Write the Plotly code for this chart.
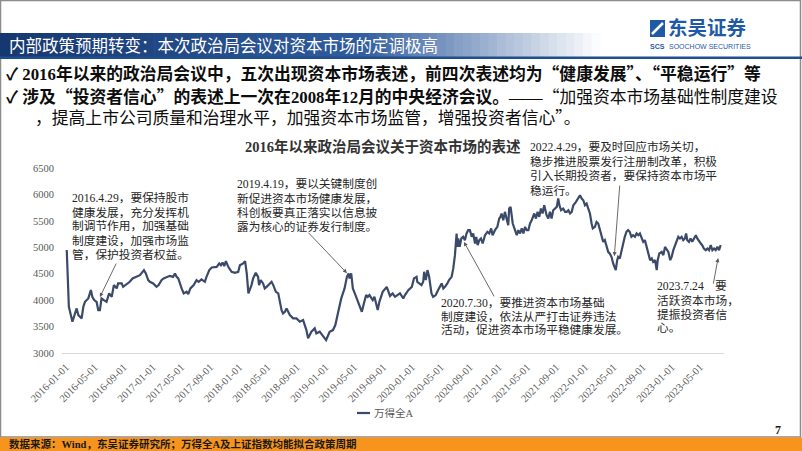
import plotly.graph_objects as go

W, H = 802, 451

# ---------------- data ----------------
series_name = "万得全A"
chart_title = "2016年以来政治局会议关于资本市场的表述"

dates = [
    # 2016
    "2016-01-04", "2016-01-06", "2016-01-08", "2016-01-11", "2016-01-13", "2016-01-18", "2016-01-28",
    "2016-02-08", "2016-02-15", "2016-02-22", "2016-02-29", "2016-03-07", "2016-03-14", "2016-03-21",
    "2016-04-04", "2016-04-15", "2016-04-21", "2016-04-29", "2016-05-09", "2016-05-16", "2016-05-23",
    "2016-05-30", "2016-06-09", "2016-06-20", "2016-07-01", "2016-07-12", "2016-07-21", "2016-08-02",
    "2016-08-08", "2016-08-23", "2016-08-29", "2016-09-09", "2016-09-19", "2016-09-26", "2016-10-08",
    "2016-10-22", "2016-11-08", "2016-11-25", "2016-12-03", "2016-12-13", "2016-12-20",
    # 2017
    "2017-01-03", "2017-01-17", "2017-01-26", "2017-02-07", "2017-02-16", "2017-03-01", "2017-03-14",
    "2017-03-28", "2017-04-05", "2017-04-12", "2017-04-19", "2017-05-03", "2017-05-12", "2017-05-24",
    "2017-05-31", "2017-06-09", "2017-06-23", "2017-07-05", "2017-07-14", "2017-07-26", "2017-08-09",
    "2017-08-16", "2017-08-28", "2017-09-07", "2017-09-28", "2017-10-09", "2017-10-16", "2017-10-23",
    "2017-10-30", "2017-11-06", "2017-11-16", "2017-11-30", "2017-12-14", "2017-12-28",
    # 2018
    "2018-01-04", "2018-01-18", "2018-01-26", "2018-02-02", "2018-02-09", "2018-02-22", "2018-03-01",
    "2018-03-12", "2018-03-22", "2018-03-26", "2018-04-02", "2018-04-12", "2018-04-19", "2018-04-27",
    "2018-05-11", "2018-05-18", "2018-05-25", "2018-06-05", "2018-06-15", "2018-06-22", "2018-06-29",
    "2018-07-05", "2018-07-13", "2018-07-20", "2018-08-03", "2018-08-17", "2018-08-31", "2018-09-14",
    "2018-09-28", "2018-10-12", "2018-10-19", "2018-11-02", "2018-11-16", "2018-11-23", "2018-12-07",
    # 2019
    "2019-01-03", "2019-01-18", "2019-02-01", "2019-02-11", "2019-02-22", "2019-03-08", "2019-03-22",
    "2019-04-01", "2019-04-08", "2019-04-12", "2019-04-19", "2019-04-26", "2019-05-10", "2019-05-24",
    "2019-06-03", "2019-06-10", "2019-06-21", "2019-06-28", "2019-07-05", "2019-07-19", "2019-07-26",
    "2019-08-09", "2019-08-16", "2019-08-30", "2019-09-16", "2019-09-30", "2019-10-11", "2019-10-21",
    "2019-10-31", "2019-11-11", "2019-11-25", "2019-12-02", "2019-12-16", "2019-12-31",
    # 2020
    "2020-01-09", "2020-01-20", "2020-01-23", "2020-02-10", "2020-02-17", "2020-02-21", "2020-02-28",
    "2020-03-06", "2020-03-13", "2020-03-23", "2020-03-30", "2020-04-10", "2020-04-20", "2020-04-27",
    "2020-05-05", "2020-05-12", "2020-05-19", "2020-05-29", "2020-06-05", "2020-06-16", "2020-06-23",
    "2020-06-30", "2020-07-07", "2020-07-10", "2020-07-14", "2020-07-20", "2020-07-27", "2020-08-04",
    "2020-08-11", "2020-08-18", "2020-08-25", "2020-09-01", "2020-09-09", "2020-09-15", "2020-09-23",
    "2020-09-28", "2020-10-04", "2020-10-11", "2020-10-18", "2020-10-25", "2020-11-04", "2020-11-14",
    "2020-11-22", "2020-11-30", "2020-12-06", "2020-12-16", "2020-12-26",
    # 2021
    "2021-01-03", "2021-01-08", "2021-01-13", "2021-01-20", "2021-01-27", "2021-02-03", "2021-02-10",
    "2021-02-14", "2021-02-20", "2021-03-01", "2021-03-10", "2021-03-18", "2021-03-25", "2021-04-01",
    "2021-04-08", "2021-04-15", "2021-04-22", "2021-04-29", "2021-05-06", "2021-05-13", "2021-05-20",
    "2021-05-27", "2021-05-31", "2021-06-07", "2021-06-14", "2021-06-21", "2021-06-28", "2021-07-05",
    "2021-07-12", "2021-07-22", "2021-07-29", "2021-08-05", "2021-08-12", "2021-08-19", "2021-08-26",
    "2021-09-03", "2021-09-09", "2021-09-14", "2021-09-21", "2021-09-30", "2021-10-08", "2021-10-15",
    "2021-10-22", "2021-10-29", "2021-11-05", "2021-11-12", "2021-11-23", "2021-12-03", "2021-12-10",
    "2021-12-17", "2021-12-24", "2021-12-31",
    # 2022
    "2022-01-07", "2022-01-14", "2022-01-21", "2022-01-28", "2022-02-02", "2022-02-11", "2022-02-18",
    "2022-02-25", "2022-03-04", "2022-03-12", "2022-03-18", "2022-03-25", "2022-04-02", "2022-04-08",
    "2022-04-15", "2022-04-22", "2022-04-29", "2022-05-06", "2022-05-10", "2022-05-16", "2022-05-20",
    "2022-05-27", "2022-06-03", "2022-06-10", "2022-06-17", "2022-06-24", "2022-07-01", "2022-07-08",
    "2022-07-15", "2022-07-22", "2022-07-30", "2022-08-06", "2022-08-13", "2022-08-20", "2022-08-27",
    "2022-09-03", "2022-09-10", "2022-09-18", "2022-09-24", "2022-10-02", "2022-10-09", "2022-10-15",
    "2022-10-23", "2022-10-30", "2022-11-03", "2022-11-10", "2022-11-20", "2022-11-27", "2022-12-04",
    "2022-12-12", "2022-12-18", "2022-12-26",
    # 2023
    "2023-01-01", "2023-01-08", "2023-01-15", "2023-01-22", "2023-01-29", "2023-02-05", "2023-02-12",
    "2023-02-19", "2023-02-26", "2023-03-03", "2023-03-08", "2023-03-15", "2023-03-22", "2023-03-29",
    "2023-04-05", "2023-04-13", "2023-04-19", "2023-04-27", "2023-05-04", "2023-05-10", "2023-05-17",
    "2023-05-25", "2023-06-01", "2023-06-08", "2023-06-15", "2023-06-22", "2023-06-29", "2023-07-06",
    "2023-07-13", "2023-07-20", "2023-07-27",
]

values = [
    # 2016
    4950, 4600, 4250, 3950, 3875, 3780, 3592,
    3750, 3843, 3717, 3686, 3655, 3875, 3969,
    4033, 4190, 4063, 4001, 3969, 3812, 3812,
    4033, 4001, 3969, 4128, 4063, 4285, 4222,
    4317, 4317, 4252, 4285, 4317, 4347, 4411,
    4441, 4473, 4568, 4505, 4379, 4347,
    # 2017
    4317, 4252, 4285, 4379, 4411, 4441, 4460,
    4441, 4505, 4441, 4411, 4222, 4128, 4158,
    4115, 4222, 4285, 4379, 4347, 4392, 4347,
    4441, 4568, 4619, 4630, 4694, 4662, 4713,
    4643, 4738, 4630, 4536, 4517, 4536,
    # 2018
    4662, 4694, 4738, 4505, 4128, 4285, 4411,
    4517, 4441, 4285, 4379, 4317, 4222, 4252,
    4317, 4347, 4285, 4158, 4128, 3950, 3810,
    3750, 3780, 3843, 3717, 3655, 3655, 3592,
    3623, 3434, 3277, 3403, 3466, 3372, 3403,
    # 2019
    3245, 3403, 3434, 3529, 3750, 4033, 4222,
    4441, 4505, 4411, 4505, 4222, 4063, 3875,
    3780, 3907, 4096, 4063, 4096, 4001, 4063,
    3812, 3969, 4158, 4252, 4080, 4128, 4063,
    4096, 4128, 4033, 4096, 4190, 4252,
    # 2020
    4411, 4441, 4347, 4285, 4347, 4536, 4379,
    4568, 4441, 4128, 4063, 4096, 4190, 4252,
    4317, 4222, 4252, 4317, 4379, 4441, 4600,
    4851, 5261, 5008, 5167, 5008, 5167, 5198,
    5135, 5261, 5324, 5324, 5198, 5261, 5072,
    5198, 5040, 5135, 5167, 5072, 5229, 5292,
    5261, 5356, 5229, 5324, 5386,
    # 2021
    5544, 5575, 5639, 5512, 5670, 5544, 5418,
    5733, 5764, 5450, 5324, 5229, 5324, 5261,
    5356, 5261, 5386, 5324, 5324, 5450, 5512,
    5607, 5639, 5544, 5670, 5575, 5733, 5639,
    5796, 5607, 5544, 5670, 5544, 5701, 5733,
    5764, 5922, 5796, 5701, 5733, 5670, 5670,
    5701, 5639, 5670, 5796, 5858, 5922, 5985,
    5922, 5890, 5796,
    # 2022
    5827, 5733, 5639, 5450, 5356, 5386, 5480,
    5450, 5324, 5167, 5103, 5135, 5008, 4913,
    4880, 4819, 4694, 4600, 4568, 4757, 4819,
    4789, 4946, 5072, 5198, 5292, 5324, 5292,
    5198, 5229, 5198, 5261, 5229, 5261, 5167,
    5103, 5135, 5008, 4883, 4757, 4789, 4725,
    4757, 4568, 4757, 4883, 4913, 4851, 5008,
    4946, 4913, 4757,
    # 2023
    4819, 4946, 5040, 5135, 5198, 5167, 5198,
    5135, 5167, 5261, 5135, 5103, 5167, 5103,
    5167, 5229, 5167, 5103, 5072, 5040, 4977,
    4946, 4977, 4946, 5040, 4946, 4977, 4946,
    5008, 4946, 5040,
]

y_ticks = [3000, 3500, 4000, 4500, 5000, 5500, 6000, 6500]
x_tick_start = "2016-01-01"
x_tick_step = "M4"

# policy notes: (text lines, arrow tip date, arrow tip value)
notes = [
    (["2016.4.29，要保持股市", "健康发展，充分发挥机", "制调节作用，加强基础", "制度建设，加强市场监", "管，保护投资者权益。"],
     "2016-05-23", 4058),
    (["2019.4.19，要以关键制度创", "新促进资本市场健康发展，", "科创板要真正落实以信息披", "露为核心的证券发行制度。"],
     "2019-04-01", 4511),
    (["2020.7.30，要推进资本市场基础", "制度建设，依法从严打击证券违法", "活动，促进资本市场平稳健康发展。"],
     "2020-08-07", 5102),
    (["2022.4.29，要及时回应市场关切，", "稳步推进股票发行注册制改革，积极", "引入长期投资者，要保持资本市场平", "稳运行。"],
     "2022-05-04", 4832),
    (["2023.7.24", "活跃资本市场，", "提振投资者信", "心。"],
     "2023-07-16", 4795),
]

header_title = "内部政策预期转变：本次政治局会议对资本市场的定调极高"
footer_text = "数据来源：Wind，东吴证券研究所；万得全A及上证指数均能拟合政策周期"
page_no = "7"

# ---------------- styling ----------------
SERIF = "Liberation Serif, Noto Sans CJK SC, serif"
CJK = "Noto Sans CJK SC"
LINE_COLOR = "#3b4a68"
TEXT_DARK = "#262626"
GRAY = "#595959"


def fx(px):
    return px / W


def fy(py):
    return 1 - py / H


def fq(s):
    # full-width quotes as in the reference
    return (s.replace("“", f'<span style="font-family:{CJK}">“</span>')
             .replace("”", f'<span style="font-family:{CJK}">”</span>'))


fig = go.Figure()
fig.add_trace(go.Scatter(
    x=dates, y=values, mode="lines", name=series_name,
    line=dict(color=LINE_COLOR, width=2.2), showlegend=False,
    hoverinfo="skip",
))

shapes = []
annotations = []

# slide frame
shapes.append(dict(type="rect", xref="paper", yref="paper", x0=fx(0.5), x1=fx(800.5), y0=fy(437), y1=fy(0.5),
                   line=dict(color="#8c8c8c", width=1.5), fillcolor="rgba(0,0,0,0)", layer="below"))

# header gradient bar
N = 70
bar_end = 600.0
c0 = (22, 56, 112)
c1 = (48, 92, 158)
for i in range(N):
    xa = i * bar_end / N
    xb = (i + 1) * bar_end / N + 0.6
    xm = (xa + xb) / 2
    if xm < 360:
        t = xm / 360
        col = tuple(c0[k] + (c1[k] - c0[k]) * t for k in range(3))
    else:
        t = min(1.0, (xm - 360) / (bar_end - 360))
        col = tuple(c1[k] + (255 - c1[k]) * t for k in range(3))
    shapes.append(dict(type="rect", xref="paper", yref="paper", x0=fx(xa), x1=fx(xb), y0=fy(57), y1=fy(33),
                       line=dict(width=0), fillcolor="rgb(%d,%d,%d)" % col, layer="below"))
shapes.append(dict(type="rect", xref="paper", yref="paper", x0=fx(0), x1=fx(802), y0=fy(59), y1=fy(56.5),
                   line=dict(width=0), fillcolor="#1f4f8f", layer="below"))

# footer bar
shapes.append(dict(type="rect", xref="paper", yref="paper", x0=0, x1=1, y0=0, y1=fy(437.5),
                   line=dict(width=0), fillcolor="#f7941e", layer="below"))

# logo icon
shapes.append(dict(type="rect", xref="paper", yref="paper", x0=fx(650), x1=fx(665), y0=fy(37), y1=fy(20),
                   line=dict(width=0), fillcolor="#1f5aa6"))
shapes.append(dict(type="line", xref="paper", yref="paper", x0=fx(652), x1=fx(663), y0=fy(34), y1=fy(23),
                   line=dict(color="white", width=2.5)))

# custom legend
shapes.append(dict(type="line", xref="paper", yref="paper", x0=fx(357), x1=fx(370), y0=fy(413), y1=fy(413),
                   line=dict(color=LINE_COLOR, width=2.2)))
annotations.append(dict(text=series_name, xref="paper", yref="paper", x=fx(372), y=fy(413),
                        xanchor="left", yanchor="middle", showarrow=False,
                        font=dict(family=SERIF, size=10.5, color=GRAY)))

# header title
annotations.append(dict(text=header_title, xref="paper", yref="paper", x=fx(7), y=fy(45),
                        xanchor="left", yanchor="middle", showarrow=False,
                        font=dict(family=CJK, size=16.5, color="white")))

# logo text
annotations.append(dict(text="<b>东吴证券</b>", xref="paper", yref="paper", x=fx(666), y=fy(27),
                        xanchor="left", yanchor="middle", showarrow=False,
                        font=dict(family=CJK, size=19.5, color="#1f5aa6")))
annotations.append(dict(text="SOOCHOW SECURITIES", xref="paper", yref="paper", x=fx(667), y=fy(46),
                        xanchor="left", yanchor="middle", showarrow=False,
                        font=dict(family="Liberation Sans Narrow, Liberation Sans, sans-serif", size=7, color="#1f5aa6")))
annotations.append(dict(text="<b>SCS</b>", xref="paper", yref="paper", x=fx(657.5), y=fy(46),
                        xanchor="center", yanchor="middle", showarrow=False,
                        font=dict(family="Liberation Sans, sans-serif", size=7, color="#1f5aa6")))

# bullet lines
bullet_font = dict(family=SERIF, size=16.8, color="#0d0d0d")
annotations.append(dict(
    text=fq("<b>✓ 2016年以来的政治局会议中，五次出现资本市场表述，前四次表述均为“健康发展”、“平稳运行”等</b>"),
    xref="paper", yref="paper", x=fx(4), y=fy(73), xanchor="left", yanchor="middle",
    showarrow=False, font=bullet_font))
annotations.append(dict(
    text=fq("<b>✓ 涉及“投资者信心”的表述上一次在2008年12月的中央经济会议。</b>——“加强资本市场基础性制度建设"),
    xref="paper", yref="paper", x=fx(4), y=fy(95.5), xanchor="left", yanchor="middle",
    showarrow=False, font=bullet_font))
annotations.append(dict(
    text=fq("，提高上市公司质量和治理水平，加强资本市场监管，增强投资者信心”。"),
    xref="paper", yref="paper", x=fx(33), y=fy(117.5), xanchor="left", yanchor="middle",
    showarrow=False, font=bullet_font))

# chart title
annotations.append(dict(text="<b>" + chart_title + "</b>", xref="paper", yref="paper", x=fx(382.5), y=fy(146),
                        xanchor="center", yanchor="middle", showarrow=False,
                        font=dict(family=SERIF, size=14.5, color="#333333")))

# note text blocks: (left x, first line y, line step) and arrow tails (pixel offsets)
note_layout = [
    (70, 198.3, 14.2, 17, -35),
    (235, 184.3, 14.4, -40, -42),
    (439, 303.3, 13.4, 31, 56),
    (528, 146.7, 14.8, 5.5, -72),
    (655, 286.7, 13.9, -5, 27),
]
note_font = dict(family=SERIF, size=11.7, color=TEXT_DARK)
for (lines, tip_date, tip_val), (lx, ly, step, ax, ay) in zip(notes, note_layout):
    for k, ln in enumerate(lines):
        annotations.append(dict(text=ln, xref="paper", yref="paper", x=fx(lx), y=fy(ly + k * step),
                                xanchor="left", yanchor="middle", showarrow=False, font=note_font))
    annotations.append(dict(text="", x=tip_date, y=tip_val, xref="x", yref="y",
                            ax=ax, ay=ay, showarrow=True, arrowhead=2, arrowsize=0.9,
                            arrowwidth=0.9, arrowcolor="#595959"))
# trailing character of the last note, right of its arrow
annotations.append(dict(text="要", xref="paper", yref="paper", x=fx(713), y=fy(286.7),
                        xanchor="left", yanchor="middle", showarrow=False, font=note_font))

# footer text and page number
annotations.append(dict(text="<b>" + footer_text + "</b>", xref="paper", yref="paper", x=fx(7), y=fy(444.5),
                        xanchor="left", yanchor="middle", showarrow=False,
                        font=dict(family=SERIF, size=10.5, color="#1a1a1a")))
annotations.append(dict(text="<b>" + page_no + "</b>", xref="paper", yref="paper", x=fx(778), y=fy(430),
                        xanchor="center", yanchor="middle", showarrow=False,
                        font=dict(family=SERIF, size=12, color="#1a1a1a")))

fig.update_layout(
    width=W, height=H,
    margin=dict(l=0, r=0, t=0, b=0),
    paper_bgcolor="white", plot_bgcolor="white",
    showlegend=False,
    xaxis=dict(
        type="date", domain=[62 / W, 724 / W], range=["2015-12-15", "2023-08-10"],
        tick0=x_tick_start, dtick=x_tick_step, tickformat="%Y-%m-%d", tickangle=-45,
        tickfont=dict(family=SERIF, size=10.5, color=GRAY),
        showgrid=False, zeroline=False, showline=True, linecolor="#d9d9d9", linewidth=1,
        ticks="outside", ticklen=3, tickcolor="rgba(0,0,0,0)", automargin=False,
    ),
    yaxis=dict(
        domain=[(H - 353) / H, (H - 168) / H], range=[3000, 6500],
        tickvals=y_ticks, ticktext=[str(v) for v in y_ticks],
        tickfont=dict(family=SERIF, size=10.5, color=GRAY),
        showgrid=False, zeroline=False, showline=False,
        ticks="outside", ticklen=5, tickcolor="rgba(0,0,0,0)", automargin=False,
    ),
    shapes=shapes,
    annotations=annotations,
)

fig.write_html("out.html")
